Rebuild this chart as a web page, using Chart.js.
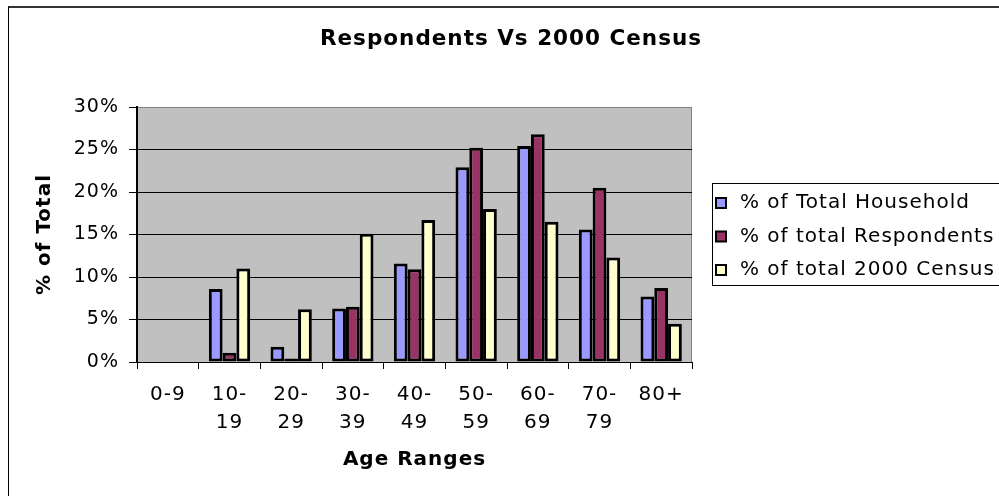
<!DOCTYPE html>
<html>
<head>
<meta charset="utf-8">
<title>Respondents Vs 2000 Census</title>
<script src="https://cdn.jsdelivr.net/npm/chart.js@4/dist/chart.umd.min.js"></script>
<style>
    html, body { margin: 0; padding: 0; background: #fff; }
    #wrap { width: 999px; height: 496px; }
</style>
</head>
<body>
<div id="wrap"><canvas id="censusChart" width="999" height="496"></canvas></div>
<script>
const ageRanges = ['0-9', ['10-', '19'], ['20-', '29'], ['30-', '39'], ['40-', '49'], ['50-', '59'], ['60-', '69'], ['70-', '79'], '80+'];
const householdPct = [null, 8.6, 1.8, 6.3, 11.6, 22.9, 25.4, 15.6, 7.7];
const respondentsPct = [null, 1.1, 0.4, 6.5, 10.9, 25.2, 26.8, 20.5, 8.7];
const censusPct = [null, 11.0, 6.2, 15.1, 16.7, 18.0, 16.5, 12.3, 4.5];
const seriesLabels = ['% of Total Household', '% of total Respondents', '% of total 2000 Census'];
const seriesColors = ['#9999FF', '#993366', '#FFFFCC'];

const FONT = '"DejaVu Sans", Verdana, sans-serif';
const SPACING = '1px';

// frame, grey plot area, title and the boxed legend (drawn like the excel original)
const excelLook = {
    id: 'excelLook',
    beforeLayout(chart) {
        chart.ctx.letterSpacing = SPACING;
    },
    beforeDraw(chart) {
        const ctx = chart.ctx;
        const a = chart.chartArea;
        ctx.letterSpacing = SPACING;
        ctx.save();
        ctx.fillStyle = '#fff';
        ctx.fillRect(0, 0, chart.width, chart.height);
        ctx.strokeStyle = '#333';
        ctx.lineWidth = 2;
        ctx.beginPath();
        ctx.moveTo(8, 7);
        ctx.lineTo(chart.width, 7);
        ctx.stroke();
        ctx.strokeStyle = '#000';
        ctx.lineWidth = 1;
        ctx.beginPath();
        ctx.moveTo(8.5, 7);
        ctx.lineTo(8.5, chart.height);
        ctx.stroke();

        ctx.fillStyle = '#C0C0C0';
        ctx.fillRect(a.left, a.top, a.right - a.left, a.bottom - a.top);
        ctx.strokeStyle = '#808080';
        ctx.strokeRect(a.left + 0.5, a.top + 0.5, a.right - a.left - 1, a.bottom - a.top);
        ctx.restore();
    },
    afterDraw(chart) {
        const ctx = chart.ctx;
        ctx.save();
        ctx.fillStyle = '#000';
        ctx.textAlign = 'center';
        ctx.textBaseline = 'middle';
        ctx.font = 'bold 21.5px ' + FONT;
        ctx.fillText('Respondents Vs 2000 Census', 511, 39);

        ctx.strokeStyle = '#000';
        ctx.lineWidth = 1;
        ctx.strokeRect(712.5, 183.5, 300, 102);
        ctx.font = '20px ' + FONT;
        ctx.textAlign = 'left';
        chart.data.datasets.forEach((ds, i) => {
            const y = 203 + i * 33.5;
            ctx.fillStyle = ds.backgroundColor;
            ctx.fillRect(716, y - 5, 10, 10);
            ctx.lineWidth = 2;
            ctx.strokeRect(716, y - 5, 10, 10);
            ctx.fillStyle = '#000';
            ctx.fillText(ds.label, 740, y);
        });
        ctx.restore();
    }
};

new Chart(document.getElementById('censusChart'), {
    type: 'bar',
    data: {
        labels: ageRanges,
        datasets: [householdPct, respondentsPct, censusPct].map((vals, i) => ({
            label: seriesLabels[i],
            data: vals,
            backgroundColor: seriesColors[i],
            borderColor: '#000',
            borderWidth: 3,
            borderSkipped: false,
            inflateAmount: 0
        }))
    },
    options: {
        responsive: false,
        animation: false,
        datasets: {
            bar: { categoryPercentage: 0.67, barPercentage: 1 }
        },
        layout: { padding: { left: 9, top: 107, right: 307, bottom: 0 } },
        plugins: {
            legend: { display: false },
            title: { display: false },
            tooltip: { enabled: false }
        },
        scales: {
            x: {
                grid: { drawOnChartArea: false, drawTicks: true, tickLength: 7, color: '#000' },
                border: { color: '#000', width: 1 },
                ticks: {
                    color: '#000',
                    padding: 12,
                    maxRotation: 0,
                    autoSkip: false,
                    font: { family: FONT, size: 20, lineHeight: 1.4 }
                },
                title: {
                    display: true,
                    text: 'Age Ranges',
                    color: '#000',
                    font: { family: FONT, size: 20, weight: 'bold', lineHeight: 1.2 },
                    padding: { top: 0, bottom: 24 }
                },
                afterFit(scale) { scale.height = 134; }
            },
            y: {
                min: 0,
                max: 30,
                ticks: {
                    stepSize: 5,
                    color: '#000',
                    padding: 10,
                    font: { family: FONT, size: 19 },
                    callback: v => v + '%'
                },
                grid: {
                    color: ctx => (ctx.tick && ctx.tick.value === 30) ? '#808080' : '#000',
                    tickColor: '#000',
                    tickLength: 8,
                    lineWidth: 1
                },
                border: { color: '#000', width: 2 },
                title: {
                    display: true,
                    text: '% of Total',
                    color: '#000',
                    font: { family: FONT, size: 20, weight: 'bold', lineHeight: 1.2 },
                    padding: { top: 24, bottom: 0 }
                },
                afterFit(scale) { scale.width = 128; }
            }
        }
    },
    plugins: [excelLook]
});
</script>
</body>
</html>
